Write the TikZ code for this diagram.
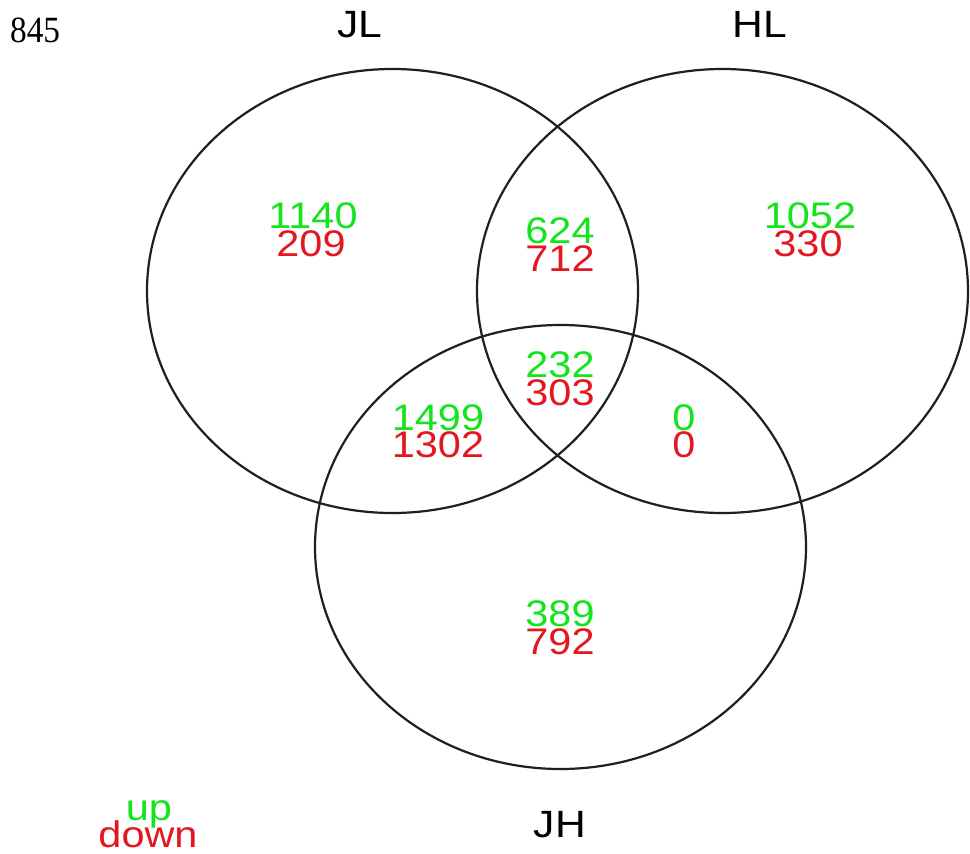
\documentclass[tikz,border=0pt]{standalone}
\usepackage{fontspec}
\setmainfont{Liberation Sans}
\newfontfamily\serifnum{Liberation Serif}
\definecolor{upgreen}{RGB}{20,228,28}
\definecolor{downred}{RGB}{228,22,32}
\begin{document}
\begin{tikzpicture}[x=1pt,y=-1pt,
  ring/.style={draw=black!88,line width=2.2pt},
  num/.style={anchor=base,inner sep=0pt,xscale=1.12,font=\fontsize{37}{37}\selectfont},
  upnum/.style={num,text=upgreen},
  downnum/.style={num,text=downred},
  setlabel/.style={anchor=base,inner sep=0pt,xscale=1.12,font=\fontsize{38}{38}\selectfont,text=black}]
\useasboundingbox[fill=white] (0,0) rectangle (970,854);
% circles
\draw[ring] (392.5,291) ellipse [x radius=245.5, y radius=222];
\draw[ring] (722.5,291) ellipse [x radius=245.5, y radius=222];
\draw[ring] (560.5,547) ellipse [x radius=245.5, y radius=222];
% labels
\node[anchor=base west,inner sep=0pt,xscale=0.9,font=\serifnum\fontsize{37}{37}\selectfont] (fig) at (10,42) {845};
\node[setlabel] (jl) at (360,37) {JL};
\node[setlabel] (hl) at (760,37) {HL};
\node[setlabel] (jh) at (560,837) {JH};
% counts
\node[upnum] (a1) at (313,228) {1140};
\node[downnum] (a2) at (311,256) {209};
\node[upnum] (b1) at (560,243) {624};
\node[downnum] (b2) at (560,271) {712};
\node[upnum] (c1) at (810,228) {1052};
\node[downnum] (c2) at (808,256) {330};
\node[upnum] (d1) at (560,377) {232};
\node[downnum] (d2) at (560,405) {303};
\node[upnum] (e1) at (438,430) {1499};
\node[downnum] (e2) at (438,457) {1302};
\node[upnum] (f1) at (684,430) {0};
\node[downnum] (f2) at (684,457) {0};
\node[upnum] (g1) at (560,626) {389};
\node[downnum] (g2) at (560,654) {792};
% legend
\node[upnum] (lu) at (149,820) {up};
\node[downnum] (ld) at (148,847) {down};
\end{tikzpicture}
\end{document}
